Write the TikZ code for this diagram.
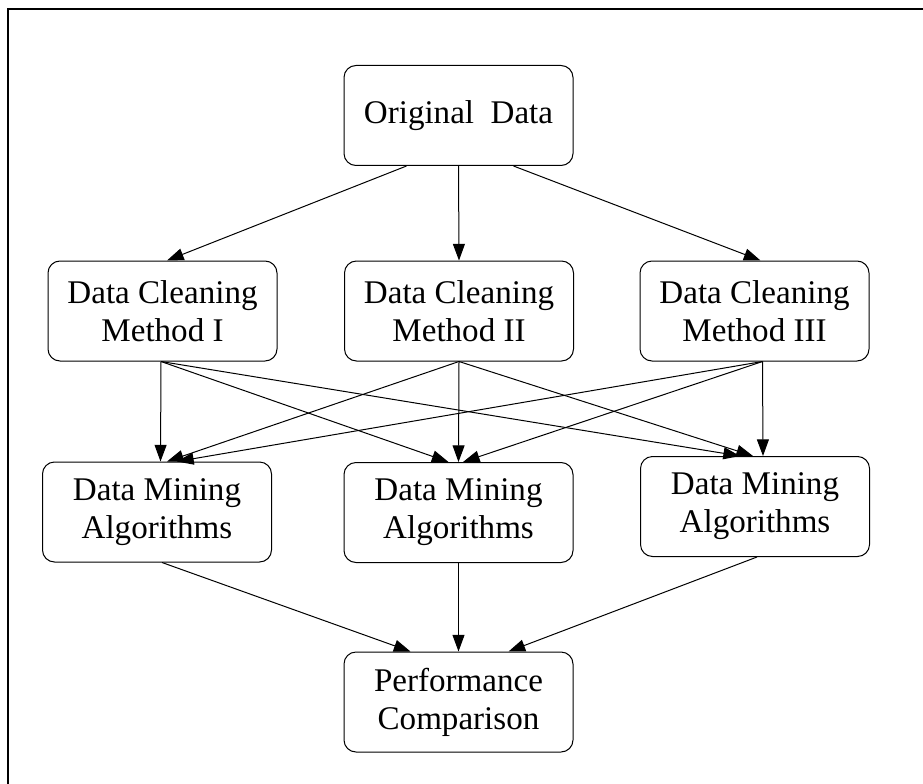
\documentclass[tikz,border=0pt]{standalone}
\usepackage{fontspec}
\setmainfont{Liberation Serif}
\usetikzlibrary{arrows.meta,calc}

\begin{document}
\begin{tikzpicture}[x=0.75pt,y=-0.75pt,
  box/.style={draw,rounded corners=9pt,line width=0.75pt,minimum width=171.75pt,
    minimum height=75pt,align=center,inner sep=0pt,font=\fontsize{24.8}{28.5}\selectfont},
  arrow/.style={line width=0.75pt,-{Triangle[length=12.5pt,width=9pt]}}]
  \useasboundingbox (0,0) rectangle (923,784);

  %draw frame
  \draw[line width=1.2pt] (8,784) -- (8,9) -- (923,9);

  %draw boxes
  \node[box] (orig) at (458.5,115.5) {Original~~Data};
  \node[box] (dc1) at (162.5,311) {Data Cleaning\\Method I};
  \node[box] (dc2) at (459,311) {Data Cleaning\\Method II};
  \node[box] (dc3) at (754.5,311) {Data Cleaning\\Method III};
  \node[box] (dm1) at (157,512) {Data Mining\\Algorithms};
  \node[box] (dm2) at (458.5,512.5) {Data Mining\\Algorithms};
  \node[box] (dm3) at (755,506.5) {Data Mining\\Algorithms};
  \node[box] (perf) at (458.5,702) {Performance\\Comparison};

  %draw arrows from data to cleaning
  \draw[arrow] ($(orig.south)+(-52,0)$) -- ($(dc1.north)+(4.5,0)$);
  \draw[arrow] (orig.south) -- (dc2.north);
  \draw[arrow] ($(orig.south)+(55,0)$) -- ($(dc3.north)+(6,0)$);

  %draw arrows from cleaning to mining
  \foreach \src/\sx/\dst/\dx in {dc1/-1.5/dm1/3.5, dc1/-1.5/dm2/-10, dc1/-1.5/dm3/-15,
      dc2/0/dm1/10, dc2/0/dm2/0, dc2/0/dm3/-2,
      dc3/8/dm1/20, dc3/8/dm2/4.5, dc3/8/dm3/8}
    \draw[arrow] ($(\src.south)+(\sx,0)$) -- ($(\dst.north)+(\dx,0)$);

  %draw arrows from mining to comparison
  \draw[arrow] ($(dm1.south)+(5,0)$) -- ($(perf.north)+(-48,0)$);
  \draw[arrow] (dm2.south) -- (perf.north);
  \draw[arrow] ($(dm3.south)+(2,0)$) -- ($(perf.north)+(50,0)$);
\end{tikzpicture}
\end{document}
